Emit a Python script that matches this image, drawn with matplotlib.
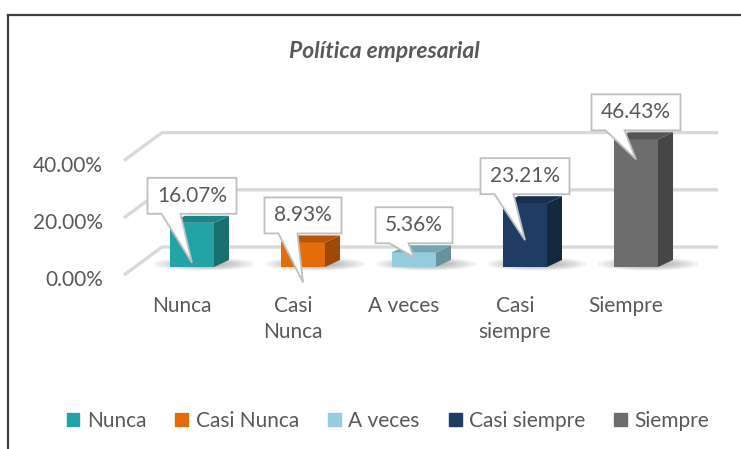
import matplotlib
matplotlib.use("Agg")
import matplotlib.pyplot as plt
from matplotlib.patches import Polygon, Ellipse, Rectangle
from matplotlib.lines import Line2D

plt.rcParams['font.family'] = ['Lato', 'DejaVu Sans']

categories = ["Nunca", "Casi Nunca", "A veces", "Casi siempre", "Siempre"]
axis_labels = ["Nunca", "Casi\nNunca", "A veces", "Casi\nsiempre", "Siempre"]
values = [16.07, 8.93, 5.36, 23.21, 46.43]
value_labels = ["16.07%", "8.93%", "5.36%", "23.21%", "46.43%"]
y_ticks = [0, 20, 40]
y_tick_labels = ["0.00%", "20.00%", "40.00%"]
title = "Política empresarial"

front_colors = ["#23A3A5", "#E46C0A", "#93CDDD", "#1F3D64", "#6D6D6D"]
top_colors = ["#1C8486", "#B55608", "#74A5B1", "#182F4E", "#555555"]
side_colors = ["#187070", "#9E4A06", "#66929D", "#142840", "#464646"]

TEXT = "#595959"
GRID = "#D9D9D9"
FS = 15

# pixel layout of the fake 3d plot
W, H = 741, 449
PX_CAT = 111.0      # px between categories
PX_PCT = 2.75       # px per percent
X0 = 192            # px of first bar centre
BASE = 267          # px (from top) of bar front bottom


def dx(px):
    return px / PX_CAT


def dy(px):
    return px / PX_PCT


fig = plt.figure(figsize=(W / 100, H / 100), dpi=100)
ax = fig.add_axes([0, 0, 1, 1])
ax.set_xlim(-X0 / PX_CAT, (W - X0) / PX_CAT)
ax.set_ylim(-(H - BASE) / PX_PCT, BASE / PX_PCT)
ax.axis("off")

# gridlines: oblique part on the left wall, then flat along the back wall
gx0, gx1, gx2 = dx(124 - X0), dx(162 - X0), dx(718 - X0)
for t, lab in zip(y_ticks, y_tick_labels):
    y_front = t * 1.04 + dy(-8)
    y_back = t * 1.04 + dy(20)
    ax.plot([gx0, gx1, gx2], [y_front, y_back, y_back], color=GRID, lw=2.4,
            solid_capstyle="butt", zorder=1)
    ax.text(dx(103 - X0), y_front - dy(5), lab, ha="right", va="center",
            fontsize=FS, color=TEXT)

xs = list(range(len(values)))
bw = dx(44)
ddx, ddy = dx(15), dy(7)

# soft shadows under the bars
for x in xs:
    for k in range(7):
        s = 1 - k * 0.12
        ax.add_patch(Ellipse((x + dx(12), dy(3)), dx(100) * s, dy(13) * s,
                             color="#404040", alpha=0.07, lw=0, zorder=2))

ax.bar(xs, values, width=bw, color=front_colors, zorder=3)
for x, v, tc, sc in zip(xs, values, top_colors, side_colors):
    r = x + bw / 2
    l = x - bw / 2
    ax.add_patch(Polygon([(r, 0), (r + ddx, ddy), (r + ddx, v + ddy), (r, v)],
                         closed=True, color=sc, lw=0, zorder=3))
    ax.add_patch(Polygon([(l, v), (r, v), (r + ddx, v + ddy), (l + ddx, v + ddy)],
                         closed=True, color=tc, lw=0, zorder=3))

# callouts
tip_drop = [49, 49, 14, 46, 29]
for x, v, lab, drop in zip(xs, values, value_labels, tip_drop):
    bw_px = 17 + 12 * len(lab)
    cy = v + dy(27)
    L, R = x - dx(bw_px / 2), x + dx(bw_px / 2)
    T, B = cy + dy(18), cy - dy(18)
    tip = (x, B - dy(drop))
    pts = [(L, T), (R, T), (R, B), (L + dx(33), B), tip, (L + dx(14), B), (L, B)]
    ax.add_patch(Polygon(pts, closed=True, facecolor="white", edgecolor="#BFBFBF",
                         lw=1.3, zorder=5))
    ax.text(x, cy, lab, ha="center", va="center", fontsize=FS, color=TEXT, zorder=6)

# category labels
for x, lab in zip(xs, axis_labels):
    ax.text(x - dx(10), dy(-29), lab, ha="center", va="top", fontsize=FS,
            color=TEXT, linespacing=1.4)

fig.text(384 / W, 1 - 52 / H, title, ha="center", va="center", fontsize=16.5,
         fontweight="bold", fontstyle="italic", color=TEXT)

# chart frame (only top and left visible)
fig.add_artist(Line2D([8 / W, 1], [1 - 15 / H, 1 - 15 / H], color="#404040", lw=1.6))
fig.add_artist(Line2D([8 / W, 8 / W], [0, 1 - 15 / H], color="#404040", lw=1.6))

handles = [Rectangle((0, 0), 1, 1, color=c) for c in front_colors]
fig.legend(handles, categories, loc="center", bbox_to_anchor=(388 / W, 1 - 421 / H),
           ncol=5, frameon=False, fontsize=FS, handlelength=0.62, handleheight=0.62,
           handletextpad=0.35, columnspacing=1.4, labelcolor=TEXT)

fig.savefig("out.png", dpi=100)
